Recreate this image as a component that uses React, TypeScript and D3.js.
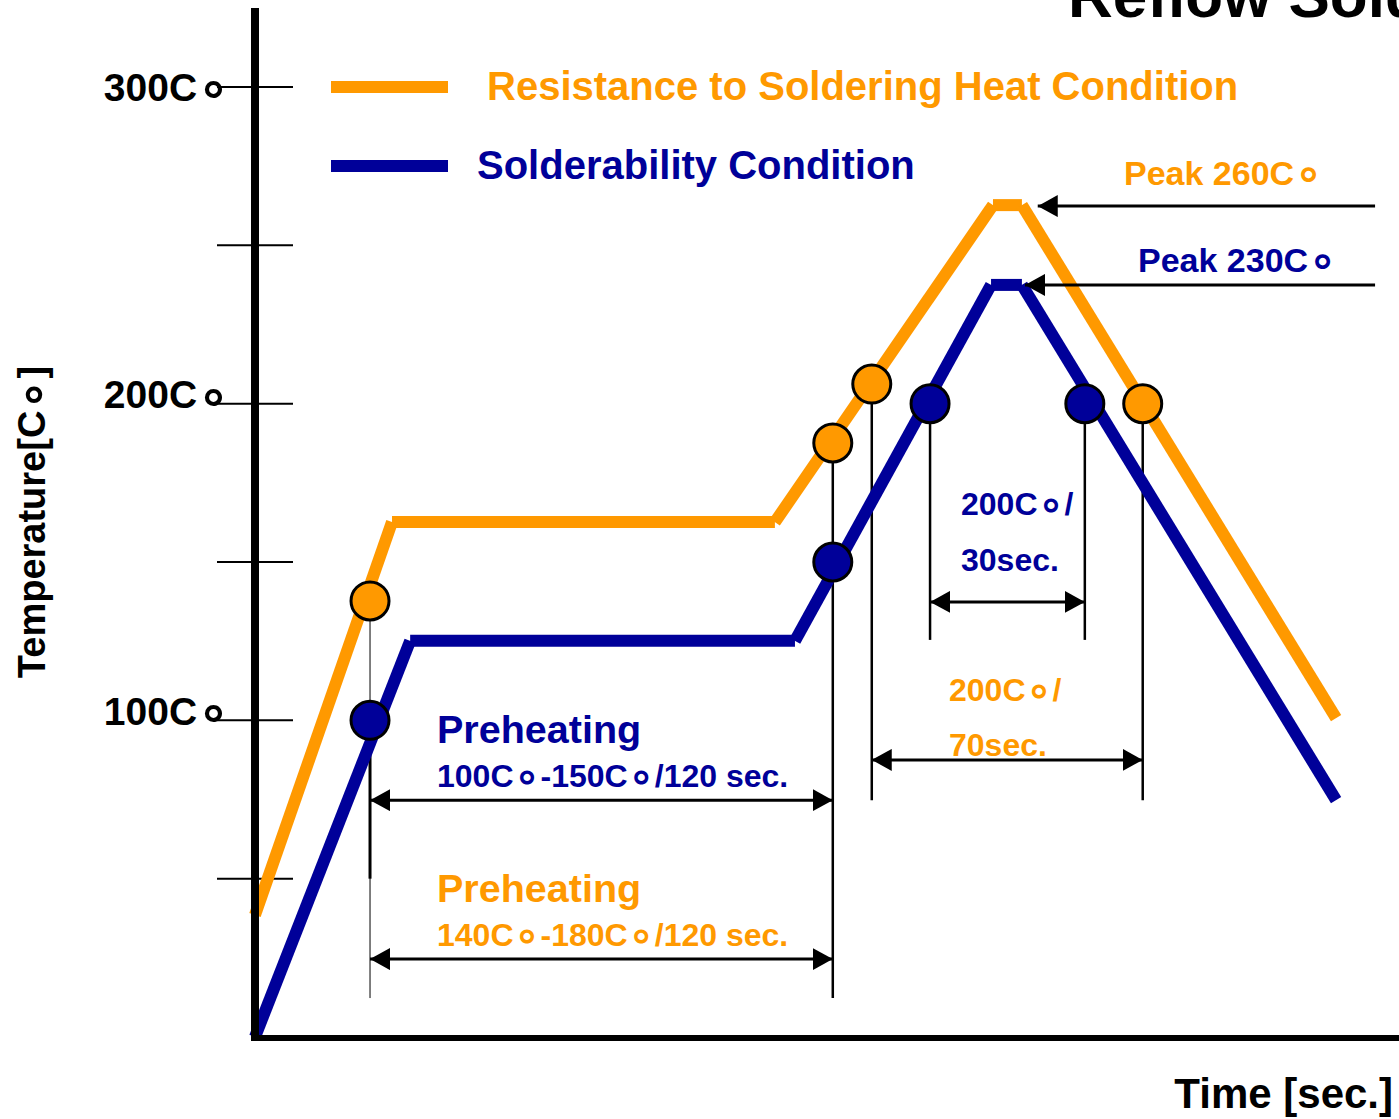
import React from "react";
import * as d3 from "d3";

// profile vertices: [time (s), temperature (C)]
const heatProfile: [number, number][] = [
  [0, 38.5],
  [35.5, 162.6],
  [134.7, 162.6],
  [191.2, 262.7],
  [198.7, 262.7],
  [280.1, 100.7]
];
const solderProfile: [number, number][] = [
  [0, 0],
  [40.2, 125.1],
  [139.9, 125.1],
  [190.7, 237.5],
  [198.7, 237.5],
  [280.1, 74.8]
];

// key points on each profile
const heatPoints: [number, number][] = [
  [29.8, 137.7],
  [149.7, 187.6],
  [159.8, 206.2],
  [230, 200]
];
const solderPoints: [number, number][] = [
  [29.8, 100],
  [149.7, 150],
  [174.9, 200],
  [215, 200]
];

// vertical guides: time, top temp, bottom temp, width
const guides: [number, number, number, number][] = [
  [29.8, 137.7, 12.3, 1],
  [29.8, 100, 50, 3],
  [149.7, 187.6, 12.3, 2.5],
  [159.8, 206.2, 74.8, 2.5],
  [174.9, 200, 125.4, 2.5],
  [215, 200, 125.4, 2.5],
  [230, 200, 74.8, 2.5]
];

// dimension arrows: from time, to time, temp, double headed
const arrows: [number, number, number, boolean][] = [
  [174.9, 215, 137.4, true],
  [159.8, 230, 87.5, true],
  [29.8, 149.7, 74.8, true],
  [29.8, 149.7, 24.6, true],
  [290.2, 202.8, 262.4, false],
  [290.2, 199.5, 237.5, false]
];

const yTicks = [50, 100, 150, 200, 250, 300];
const yTickLabels = ["100C∘", "200C∘", "300C∘"];
const yTickLabelValues = [100, 200, 300];

const ORANGE = "#FF9900";
const BLUE = "#000099";
const FONT = "'Liberation Sans', Arial, sans-serif";

// the degree mark is drawn as a bigger ring
function withRings(s: string) {
  const parts = s.split("∘");
  return parts.map((p, i) => (
    <React.Fragment key={i}>
      {p}
      {i < parts.length - 1 && (
        <tspan fontFamily="'DejaVu Sans'" fontSize="1.35em">∘</tspan>
      )}
    </React.Fragment>
  ));
}

export default function App() {
  const width = 1399;
  const height = 1119;

  const x = d3.scaleLinear().domain([0, 296.4]).range([255, 1399]);
  const y = d3.scaleLinear().domain([0, 300]).range([1037, 87]);

  const segs = (pts: [number, number][]) =>
    d3.pairs(pts).map(([a, b]) => [x(a[0]), y(a[1]), x(b[0]), y(b[1])]);

  return (
    <svg
      width={width}
      height={height}
      style={{ position: "absolute", left: 0, top: 0, background: "#fff" }}
      fontFamily={FONT}
      fontWeight="bold"
    >
      <defs>
        <marker
          id="ah"
          viewBox="0 0 20 22"
          refX={20}
          refY={11}
          markerWidth={20}
          markerHeight={22}
          markerUnits="userSpaceOnUse"
          orient="auto-start-reverse"
        >
          <path d="M0,0L20,11L0,22Z" fill="#000" />
        </marker>
      </defs>

      {/* title, cut by the page edge as in the source */}
      <text x={1068} y={17} fontSize={62} fill="#000">
        Reflow Soldering Profile
      </text>

      {/* y ticks */}
      {yTicks.map((t) => (
        <line key={t} x1={217} x2={293} y1={y(t)} y2={y(t)} stroke="#000" strokeWidth={2} />
      ))}
      {yTickLabels.map((l, i) => (
        <text
          key={l}
          x={230}
          y={y(yTickLabelValues[i]) - (i === 2 ? 0 : 9)}
          textAnchor="end"
          dominantBaseline="central"
          fontSize={39}
          fill="#000"
        >
          {withRings(l)}
        </text>
      ))}

      {/* guides */}
      {guides.map(([t, top, bot, w], i) => (
        <line key={i} x1={x(t)} x2={x(t)} y1={y(top)} y2={y(bot)} stroke="#000" strokeWidth={w} />
      ))}

      {/* profiles */}
      {segs(heatProfile).map(([x1, y1, x2, y2], i) => (
        <line key={"h" + i} x1={x1} y1={y1} x2={x2} y2={y2} stroke={ORANGE} strokeWidth={12} />
      ))}
      {segs(solderProfile).map(([x1, y1, x2, y2], i) => (
        <line key={"s" + i} x1={x1} y1={y1} x2={x2} y2={y2} stroke={BLUE} strokeWidth={12} />
      ))}

      {/* axes */}
      <line x1={255} x2={255} y1={8} y2={1041} stroke="#000" strokeWidth={8} />
      <line x1={251} x2={1399} y1={1038} y2={1038} stroke="#000" strokeWidth={6} />

      {/* arrows */}
      {arrows.map(([t0, t1, temp, both], i) => (
        <line
          key={i}
          x1={x(t0)}
          x2={x(t1)}
          y1={y(temp)}
          y2={y(temp)}
          stroke="#000"
          strokeWidth={3}
          markerEnd="url(#ah)"
          markerStart={both ? "url(#ah)" : undefined}
        />
      ))}

      {/* key points */}
      {heatPoints.map(([t, v], i) => (
        <circle key={"hp" + i} cx={x(t)} cy={y(v)} r={19} fill={ORANGE} stroke="#000" strokeWidth={3} />
      ))}
      {solderPoints.map(([t, v], i) => (
        <circle key={"sp" + i} cx={x(t)} cy={y(v)} r={19} fill={BLUE} stroke="#000" strokeWidth={3} />
      ))}

      {/* legend */}
      <line x1={331} x2={448} y1={87} y2={87} stroke={ORANGE} strokeWidth={12} />
      <text x={487} y={86} dominantBaseline="central" fontSize={40} fill={ORANGE}>
        Resistance to Soldering Heat Condition
      </text>
      <line x1={331} x2={448} y1={166} y2={166} stroke={BLUE} strokeWidth={12} />
      <text x={477} y={165} dominantBaseline="central" fontSize={40} fill={BLUE}>
        Solderability Condition
      </text>

      {/* annotations */}
      <text x={1124} y={173} dominantBaseline="central" fontSize={34} fill={ORANGE}>{withRings("Peak 260C∘")}</text>
      <text x={1138} y={260} dominantBaseline="central" fontSize={34} fill={BLUE}>{withRings("Peak 230C∘")}</text>

      <text x={961} y={504} dominantBaseline="central" fontSize={32} fill={BLUE}>{withRings("200C∘/")}</text>
      <text x={961} y={560} dominantBaseline="central" fontSize={32} fill={BLUE}>30sec.</text>
      <text x={949} y={690} dominantBaseline="central" fontSize={32} fill={ORANGE}>{withRings("200C∘/")}</text>
      <text x={949} y={745} dominantBaseline="central" fontSize={32} fill={ORANGE}>70sec.</text>

      <text x={437} y={729} dominantBaseline="central" fontSize={39.5} fill={BLUE}>Preheating</text>
      <text x={437} y={776} dominantBaseline="central" fontSize={32} fill={BLUE}>{withRings("100C∘-150C∘/120 sec.")}</text>
      <text x={437} y={888} dominantBaseline="central" fontSize={39.5} fill={ORANGE}>Preheating</text>
      <text x={437} y={935} dominantBaseline="central" fontSize={32} fill={ORANGE}>{withRings("140C∘-180C∘/120 sec.")}</text>

      {/* axis titles */}
      <text
        transform="translate(32,522) rotate(-90)"
        textAnchor="middle"
        dominantBaseline="central"
        fontSize={38}
        fill="#000"
      >
        {withRings("Temperature[C∘]")}
      </text>
      <text x={1393} y={1093} textAnchor="end" dominantBaseline="central" fontSize={42} fill="#000">
        Time [sec.]
      </text>
    </svg>
  );
}
